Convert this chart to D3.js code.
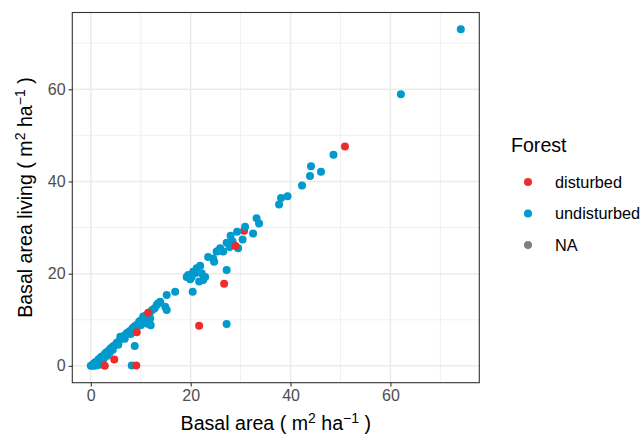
<!DOCTYPE html>
<html>
<head>
<meta charset="utf-8">
<script src="https://cdn.jsdelivr.net/npm/d3@7"></script>
<style>
  body { margin: 0; background: #fff; }
  svg { display: block; font-family: "Liberation Sans", Arial, Helvetica, sans-serif; }
</style>
</head>
<body>
<svg id="chart" width="642" height="435"></svg>
<script>
// ---- data ----
const categories = ["disturbed", "undisturbed", "NA"];
const colors = ["#EE2C2C", "#009ACD", "#7F7F7F"];
const xTicks = [0, 20, 40, 60];
const yTicks = [0, 20, 40, 60];

const undisturbedX = [74.1, 62.1, 48.6, 46.1, 44.1, 43.9, 42.3, 39.4, 38.1, 37.7,
  33.2, 33.7, 30.9, 29.3, 32.5, 28.0, 30.4, 27.2, 29.5, 25.9, 25.2, 26.5, 27.8, 28.4, 28.2, 25.5,
  23.5, 24.5, 24.7, 21.9, 21.2, 20.5, 19.5, 20.2, 20.9, 22.2, 22.5, 21.7, 19.2, 19.9, 22.9,
  27.2, 20.4, 16.9, 15.2, 13.9, 14.9, 15.2, 13.2, 12.8, 12.3, 27.2,
  11.8, 11.0, 10.6, 10.2, 9.7, 9.3, 8.8, 8.4, 7.9, 7.5, 7.0, 6.5, 6.1, 5.6, 5.2, 4.7, 4.3, 3.9,
  3.5, 3.1, 2.8, 2.4, 2.1, 1.8, 1.5, 1.2, 0.9, 0.6, 0.3, 0.0,
  1.0, 1.6, 2.2, 2.6, 3.3, 3.8, 4.4, 5.5, 6.8, 8.0, 10.0, 11.5, 11.9, 11.2, 9.2, 7.2, 5.9,
  10.5, 8.8, 8.2, 0.5, 1.4, 2.0, 13.5, 12.0];
const undisturbedY = [73.0, 58.9, 45.8, 42.1, 43.3, 41.2, 39.1, 36.8, 36.4, 35.0,
  32.0, 30.9, 30.2, 29.1, 28.7, 28.2, 27.4, 26.7, 25.5, 25.5, 24.8, 24.8, 25.8, 27.0, 26.2, 24.9,
  23.6, 23.3, 22.6, 21.7, 21.2, 20.4, 19.7, 19.3, 20.1, 20.1, 18.6, 18.3, 19.3, 18.8, 19.3,
  20.8, 16.1, 16.1, 15.4, 13.9, 12.8, 12.1, 13.2, 12.5, 12.1, 9.1,
  11.6, 10.9, 10.4, 10.0, 9.6, 9.0, 8.6, 8.2, 7.6, 7.3, 6.8, 6.4, 5.9, 5.3, 5.0, 4.4, 4.1, 3.7,
  3.2, 2.9, 2.6, 2.1, 2.0, 1.6, 1.4, 0.9, 0.8, 0.5, 0.2, 0.0,
  0.1, 0.6, 1.0, 1.6, 2.2, 2.9, 3.5, 4.6, 5.9, 6.9, 8.8, 9.2, 10.3, 9.2, 8.5, 7.1, 6.3,
  10.7, 4.3, 0.1, 0.0, 0.2, 0.3, 13.6, 8.8];

const disturbedX = [30.7, 50.9, 29.0, 26.7, 21.7, 11.5, 9.2, 4.7, 2.8, 9.1];
const disturbedY = [29.3, 47.6, 26.0, 17.8, 8.7, 11.5, 7.3, 1.4, 0.0, 0.1];

// ---- layout ----
const svg = d3.select("#chart");
const P = { left: 72.3, right: 479.3, top: 12.5, bottom: 382.7 };

const allX = undisturbedX.concat(disturbedX);
const allY = undisturbedY.concat(disturbedY);
function expand(ext) { const d = (ext[1] - ext[0]) * 0.05; return [ext[0] - d, ext[1] + d]; }
const x = d3.scaleLinear().domain(expand(d3.extent(allX))).range([P.left, P.right]);
const y = d3.scaleLinear().domain(expand(d3.extent(allY))).range([P.bottom, P.top]);

const xMinor = [10, 30, 50, 70];
const yMinor = [10, 30, 50, 70];

svg.append("rect").attr("x", P.left).attr("y", P.top)
  .attr("width", P.right - P.left).attr("height", P.bottom - P.top).attr("fill", "#fff");

const grid = svg.append("g");
grid.selectAll(".xminor").data(xMinor.filter(v => x(v) < P.right)).enter().append("line")
  .attr("x1", d => x(d)).attr("x2", d => x(d)).attr("y1", P.top).attr("y2", P.bottom)
  .attr("stroke", "#EBEBEB").attr("stroke-width", 0.75);
grid.selectAll(".yminor").data(yMinor.filter(v => y(v) > P.top)).enter().append("line")
  .attr("y1", d => y(d)).attr("y2", d => y(d)).attr("x1", P.left).attr("x2", P.right)
  .attr("stroke", "#EBEBEB").attr("stroke-width", 0.75);
grid.selectAll(".xmajor").data(xTicks).enter().append("line")
  .attr("x1", d => x(d)).attr("x2", d => x(d)).attr("y1", P.top).attr("y2", P.bottom)
  .attr("stroke", "#EBEBEB").attr("stroke-width", 1.5);
grid.selectAll(".ymajor").data(yTicks).enter().append("line")
  .attr("y1", d => y(d)).attr("y2", d => y(d)).attr("x1", P.left).attr("x2", P.right)
  .attr("stroke", "#EBEBEB").attr("stroke-width", 1.5);

// points: first disturbed point sits behind the undisturbed cloud
const pts = svg.append("g");
const undist = undisturbedX.map((v, i) => ({ x: v, y: undisturbedY[i] }));
const dist = disturbedX.map((v, i) => ({ x: v, y: disturbedY[i] }));
pts.selectAll(".d0").data(dist.slice(0, 1)).enter().append("circle")
  .attr("cx", d => x(d.x)).attr("cy", d => y(d.y)).attr("r", 4).attr("fill", colors[0]);
pts.selectAll(".u").data(undist).enter().append("circle")
  .attr("cx", d => x(d.x)).attr("cy", d => y(d.y)).attr("r", 4).attr("fill", colors[1]);
pts.selectAll(".d").data(dist.slice(1)).enter().append("circle")
  .attr("cx", d => x(d.x)).attr("cy", d => y(d.y)).attr("r", 4).attr("fill", colors[0]);

svg.append("rect").attr("x", P.left).attr("y", P.top)
  .attr("width", P.right - P.left).attr("height", P.bottom - P.top)
  .attr("fill", "none").attr("stroke", "#333333").attr("stroke-width", 1.1);

// axes
const xAxis = d3.axisBottom(x).tickValues(xTicks).tickSize(3.7).tickPadding(3).tickFormat(d3.format("d"));
const yAxis = d3.axisLeft(y).tickValues(yTicks).tickSize(3.7).tickPadding(3).tickFormat(d3.format("d"));
const gx = svg.append("g").attr("transform", `translate(0,${P.bottom})`).call(xAxis);
const gy = svg.append("g").attr("transform", `translate(${P.left},0)`).call(yAxis);
[gx, gy].forEach(g => {
  g.select(".domain").remove();
  g.selectAll(".tick line").attr("stroke", "#333333").attr("stroke-width", 1.1);
  g.selectAll(".tick text").attr("fill", "#4D4D4D").style("font-size", "16px")
    .style("font-family", "'Liberation Sans', Arial, sans-serif");
});

function unitTitle(sel, prefix) {
  sel.append("tspan").text(prefix + " ( m");
  sel.append("tspan").attr("dy", -7.5).style("font-size", "14px").text("2");
  sel.append("tspan").attr("dy", 7.5).text(" ha");
  sel.append("tspan").attr("dy", -7.5).style("font-size", "14px").text("\u22121");
  sel.append("tspan").attr("dy", 7.5).text(" )");
}
const xt = svg.append("text").attr("x", (P.left + P.right) / 2).attr("y", 430)
  .attr("text-anchor", "middle").style("font-size", "19.6px").attr("fill", "#000");
unitTitle(xt, "Basal area");
const yt = svg.append("text")
  .attr("transform", `translate(32,${(P.top + P.bottom) / 2}) rotate(-90)`)
  .attr("text-anchor", "middle").style("font-size", "19.6px").attr("fill", "#000");
unitTitle(yt, "Basal area living");

// legend
const lg = svg.append("g");
lg.append("text").attr("x", 511).attr("y", 152).style("font-size", "19.6px").attr("fill", "#000").text("Forest");
const items = lg.selectAll(".item").data(categories).enter().append("g")
  .attr("transform", (d, i) => `translate(0,${182 + i * 31.5})`);
items.append("circle").attr("cx", 528).attr("cy", 0).attr("r", 4).attr("fill", (d, i) => colors[i]);
items.append("text").attr("x", 555).attr("y", 0).attr("dy", "0.35em")
  .style("font-size", "16.3px").attr("fill", "#000").text(d => d);
</script>
</body>
</html>
